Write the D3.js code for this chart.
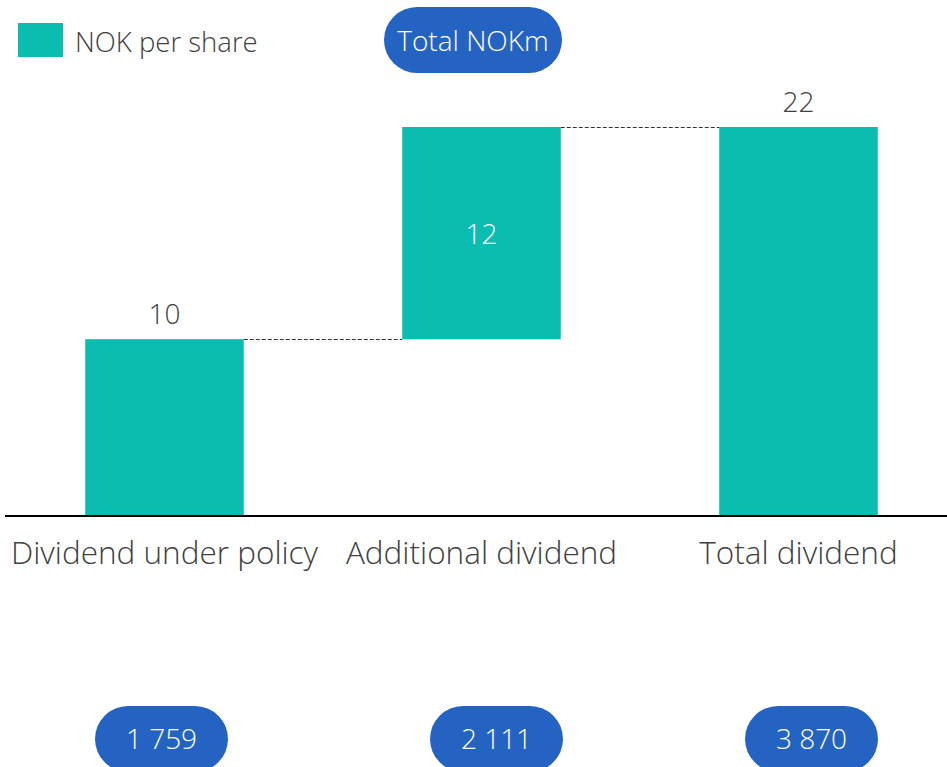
<!DOCTYPE html>
<html><head><meta charset="utf-8">
<script src="https://cdn.jsdelivr.net/npm/d3@7"></script>
<style>
html,body{margin:0;padding:0;background:#fff;overflow:hidden;}
text{font-family:"Segoe UI","Open Sans","Noto Sans",sans-serif;font-weight:300;}
</style></head>
<body>
<svg id="c" width="947" height="767"></svg>
<script>
const categories = ["Dividend under policy", "Additional dividend", "Total dividend"];
const perShare = [10, 12, 22];
const barStart = [0, 10, 0];
const totalNOKm = ["1 759", "2 111", "3 870"];
const legendLabel = "NOK per share";
const pillTitle = "Total NOKm";

const teal = "#0BBCB0", blue = "#2563C2", grey = "#404040";
const svg = d3.select("#c");
const x = d3.scaleBand().domain(categories).range([6, 957]).paddingInner(0.5).paddingOuter(0.25);
const y = d3.scaleLinear().domain([0, 22]).range([516, 127]);
const pillShift = [-3, 15, 13]; // layout offsets of the bottom pills

// bars
const data = categories.map((c, i) => ({c, v: perShare[i], s: barStart[i], e: barStart[i] + perShare[i]}));
svg.selectAll("rect.bar").data(data).join("rect").attr("class", "bar")
  .attr("x", d => x(d.c)).attr("width", x.bandwidth())
  .attr("y", d => y(d.e)).attr("height", d => y(d.s) - y(d.e))
  .attr("fill", teal);

// connectors
for (let i = 0; i < data.length - 1; i++) {
  const yy = Math.round(y(data[i].e)) + 0.5;
  svg.append("line").attr("x1", x(data[i].c) + x.bandwidth()).attr("x2", x(data[i + 1].c))
    .attr("y1", yy).attr("y2", yy).attr("stroke", "#333").attr("stroke-width", 1)
    .attr("stroke-dasharray", "4,2");
}

// axis baseline
svg.append("line").attr("x1", 5).attr("x2", 947).attr("y1", y(0)).attr("y2", y(0))
  .attr("stroke", "#000").attr("stroke-width", 2);

// value labels
svg.selectAll("text.val").data(data).join("text").attr("class", "val")
  .attr("x", d => x(d.c) + x.bandwidth() / 2)
  .attr("y", (d, i) => i === 1 ? (y(d.s) + y(d.e)) / 2 + 11 : y(d.e) - 15)
  .attr("text-anchor", "middle").attr("font-size", 28)
  .attr("fill", (d, i) => i === 1 ? "#fff" : grey)
  .text(d => d.v);

// category labels
svg.selectAll("text.cat").data(categories).join("text").attr("class", "cat")
  .attr("x", d => x(d) + x.bandwidth() / 2).attr("y", 564)
  .attr("text-anchor", "middle").attr("font-size", 31.5).attr("fill", grey)
  .text(d => d);

// legend
svg.append("rect").attr("x", 18).attr("y", 23).attr("width", 45).attr("height", 34).attr("fill", teal);
svg.append("text").attr("x", 75).attr("y", 52).attr("font-size", 27.5).attr("fill", grey).text(legendLabel);

// top pill
svg.append("rect").attr("x", 384).attr("y", 7).attr("width", 178).attr("height", 66)
  .attr("rx", 33).attr("ry", 33).attr("fill", blue);
svg.append("text").attr("x", 473).attr("y", 51).attr("text-anchor", "middle")
  .attr("font-size", 28).attr("fill", "#fff").text(pillTitle);

// bottom pills
const pw = 133, ph = 66;
const pcx = (d, i) => x(d) + x.bandwidth() / 2 + pillShift[i];
svg.selectAll("rect.pill").data(categories).join("rect").attr("class", "pill")
  .attr("x", (d, i) => pcx(d, i) - pw / 2).attr("y", 706)
  .attr("width", pw).attr("height", ph).attr("rx", 33).attr("ry", 33).attr("fill", blue);
svg.selectAll("text.tot").data(categories).join("text").attr("class", "tot")
  .attr("x", pcx).attr("y", 749)
  .attr("text-anchor", "middle").attr("font-size", 28).attr("fill", "#fff")
  .text((d, i) => totalNOKm[i]);
</script>
</body></html>
